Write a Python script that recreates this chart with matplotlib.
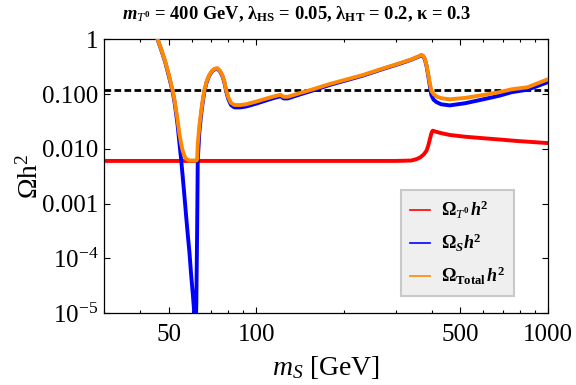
import matplotlib
matplotlib.use("Agg")
import matplotlib.pyplot as plt
from matplotlib.ticker import FixedLocator, NullFormatter

plt.rcParams['font.family'] = ['Liberation Serif', 'DejaVu Serif']
plt.rcParams['mathtext.fontset'] = 'custom'
plt.rcParams['mathtext.rm'] = 'Liberation Serif'
plt.rcParams['mathtext.it'] = 'Liberation Serif:italic'
plt.rcParams['mathtext.bf'] = 'Liberation Serif:bold'
plt.rcParams['mathtext.bfit'] = 'Liberation Serif:bold:italic'

# ---------------- data ----------------
m_S = [44.0, 45.8, 47.2, 48.6, 50.0, 51.5, 52.3, 53.0, 53.7, 54.4, 55.1, 55.8,
       56.6, 57.3, 58.1, 58.9, 59.7, 60.5, 61.2, 61.7, 62.2, 62.6, 62.9, 63.7,
       64.6, 65.4, 66.3, 67.5, 68.9, 70.5, 72.0, 73.5, 75.0, 76.5, 77.7, 78.7,
       80.0, 81.8, 84.0, 88.0, 92.0, 100, 110, 117, 121, 124, 128, 140, 156,
       178, 200, 232, 270, 310, 340, 360, 368, 373, 378, 383, 388, 393, 398,
       405, 415, 430, 460, 520, 599, 680, 750, 850, 1000]
omega_S = [1.90, 1.00, 0.63, 0.39, 0.22, 0.115, 0.074, 0.045, 0.026, 0.013,
           0.0068, 0.0033, 0.0014, 6.5e-4, 2.8e-4, 1.3e-4, 5.0e-5, 2.2e-5,
           1.0e-5, 2.0e-6, 1.5e-5, 3.3e-4, 0.0060, 0.020, 0.042, 0.070, 0.113,
           0.165, 0.217, 0.262, 0.285, 0.290, 0.260, 0.210, 0.160, 0.113,
           0.082, 0.063, 0.057, 0.057, 0.059, 0.067, 0.079, 0.087, 0.091,
           0.083, 0.083, 0.097, 0.116, 0.146, 0.174, 0.217, 0.284, 0.358,
           0.424, 0.482, 0.510, 0.492, 0.430, 0.330, 0.223, 0.145, 0.096,
           0.079, 0.071, 0.065, 0.062, 0.068, 0.080, 0.093, 0.108, 0.120,
           0.165]
omega_total = [1.91, 1.01, 0.64, 0.40, 0.23, 0.121, 0.080, 0.051, 0.032, 0.019,
               0.0128, 0.0093, 0.0074, 0.0066, 0.0063, 0.0061, 0.0061, 0.0061,
               0.0061, 0.0061, 0.0061, 0.0064, 0.0121, 0.026, 0.048, 0.076,
               0.119, 0.171, 0.223, 0.268, 0.291, 0.296, 0.266, 0.216, 0.166,
               0.119, 0.088, 0.069, 0.063, 0.063, 0.065, 0.073, 0.085, 0.093,
               0.097, 0.089, 0.089, 0.103, 0.122, 0.152, 0.180, 0.223, 0.290,
               0.365, 0.430, 0.489, 0.517, 0.500, 0.440, 0.340, 0.235, 0.160,
               0.115, 0.100, 0.090, 0.084, 0.080, 0.085, 0.096, 0.108, 0.122,
               0.133, 0.186]

m_T0 = [30, 100, 200, 300, 340, 355, 365, 375, 383, 388, 393, 398, 401, 403,
        410, 430, 460, 520, 599, 700, 780, 900, 1000]
omega_T0 = [0.0060, 0.0060, 0.0060, 0.0060, 0.0061, 0.0065, 0.0070, 0.0079,
            0.0092, 0.0112, 0.0146, 0.0190, 0.0210, 0.0214, 0.0207, 0.0193,
            0.0179, 0.0166, 0.0156, 0.0146, 0.0139, 0.0132, 0.0127]

planck_omega = 0.12

x_major = [50, 100, 500, 1000]
x_major_labels = ["50", "100", "500", "1000"]
x_minor = [30, 40, 60, 70, 80, 90, 200, 300, 400, 600, 700, 800, 900]
y_major = [1, 0.1, 0.01, 0.001, 1e-4, 1e-5]
y_major_labels = ["1", "0.100", "0.010", "0.001", r"$10^{-4}$", r"$10^{-5}$"]

title = (r"$\boldsymbol{m}_{\boldsymbol{T^{\mathbf{0}}}}$ = 400 GeV, $\mathbf{λ_{HS}}$ = 0.05, "
         r"$\mathbf{λ_{HT}}$ = 0.2, $\boldsymbol{κ}$ = 0.3")
lab_T0 = r"$\mathbf{Ω}_{\boldsymbol{T^{\mathbf{0}}}}\,\boldsymbol{h}^{\mathbf{2}}$"
lab_S = r"$\mathbf{Ω}_{\boldsymbol{S}}\boldsymbol{h}^{\mathbf{2}}$"
lab_tot = r"$\mathbf{Ω}_{\mathbf{Total}}\,\boldsymbol{h}^{\mathbf{2}}$"

# ---------------- plot ----------------
fig = plt.figure(figsize=(5.76, 3.85), dpi=100)
ax = fig.add_axes([104/576, 1-313/385, (548-104)/576, (313-39.3)/385])

ax.axhline(planck_omega, color='black', lw=2.0, dashes=(2.4, 1.2), zorder=1)
ax.plot(m_T0, omega_T0, color='#ff0000', lw=2.8, label=lab_T0, zorder=2,
        solid_joinstyle='round')
ax.plot(m_S, omega_S, color='#0000ff', lw=2.8, label=lab_S, zorder=3,
        solid_joinstyle='round')
ax.plot(m_S, omega_total, color='#ff8800', lw=2.8, label=lab_tot, zorder=4,
        solid_joinstyle='round')

ax.set_xscale('log')
ax.set_yscale('log')
ax.set_xlim(30, 1000)
ax.set_ylim(1e-5, 1)

ax.xaxis.set_major_locator(FixedLocator(x_major))
ax.set_xticklabels(x_major_labels)
ax.xaxis.set_minor_locator(FixedLocator(x_minor))
ax.xaxis.set_minor_formatter(NullFormatter())
ax.set_yticks(y_major)
ax.set_yticklabels(y_major_labels)

ax.tick_params(which='both', direction='in', top=True, right=True, width=0.8)
ax.tick_params(which='major', length=4, labelsize=18)
ax.tick_params(which='minor', length=2)
ax.tick_params(axis='x', which='major', pad=8)
ax.tick_params(axis='y', which='major', pad=4)
for s in ax.spines.values():
    s.set_linewidth(0.9)

ax.set_xlabel(r"$m_S$ [GeV]", fontsize=20, labelpad=6)
ax.set_ylabel(r"$\mathrm{Ωh}^2$", fontsize=20, labelpad=-1)

fig.text(296/576, 1-14/385, title, ha='center', va='center', fontsize=13.3,
         fontweight='bold')

leg = ax.legend(loc='center', bbox_to_anchor=(0.796, 0.256), fontsize=13,
                frameon=True, fancybox=False, framealpha=1.0,
                facecolor='#efefef', edgecolor='#c8c8c8',
                handlelength=1.1, handletextpad=0.6, labelspacing=0.6,
                borderpad=0.5, borderaxespad=0.0)
leg.get_frame().set_linewidth(1.5)
for line in leg.get_lines():
    line.set_linewidth(1.2)

fig.savefig("out.png", dpi=100)
